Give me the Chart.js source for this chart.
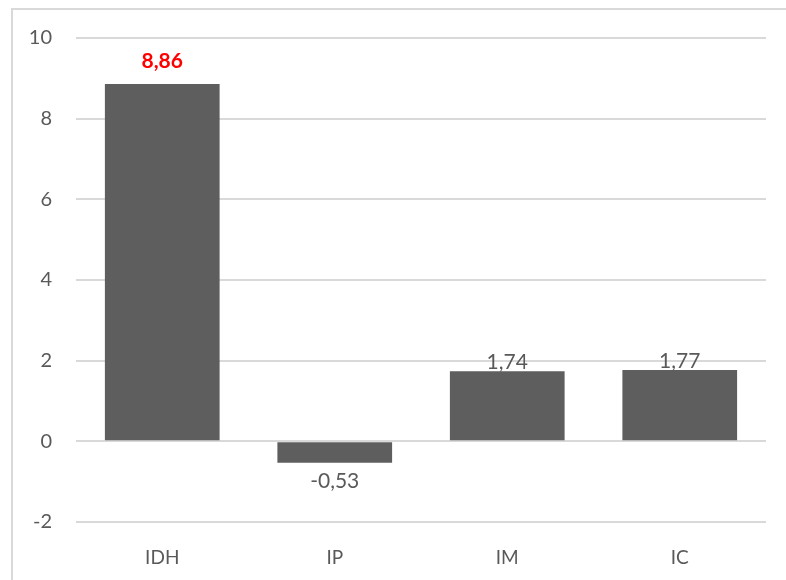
<!DOCTYPE html>
<html>
<head>
<meta charset="utf-8">
<script src="https://cdn.jsdelivr.net/npm/chart.js@4"></script>
<style>
  html, body { margin: 0; padding: 0; background: #fff; }
  #wrap { width: 786px; height: 580px; position: relative; }
</style>
</head>
<body>
<div id="wrap"><canvas id="chart"></canvas></div>
<script>
// data
const categories = ['IDH', 'IP', 'IM', 'IC'];
const values = [8.86, -0.53, 1.74, 1.77];
const yTicks = [-2, 0, 2, 4, 6, 8, 10];

const textColor = '#595959';
const gridColor = '#d9d9d9';

// frame around the chart (top and left edges only show)
const framePlugin = {
    id: 'frame',
    beforeDraw(chart) {
        const ctx = chart.ctx;
        ctx.save();
        ctx.strokeStyle = gridColor;
        ctx.lineWidth = 2;
        ctx.beginPath();
        ctx.moveTo(12, 590);
        ctx.lineTo(12, 9);
        ctx.lineTo(800, 9);
        ctx.stroke();
        ctx.restore();
    }
};

// value labels, comma decimal
const labelPlugin = {
    id: 'valueLabels',
    afterDatasetsDraw(chart) {
        const ctx = chart.ctx;
        const meta = chart.getDatasetMeta(0);
        ctx.save();
        ctx.textAlign = 'center';
        meta.data.forEach((bar, i) => {
            const v = values[i];
            const txt = v.toFixed(2).replace('.', ',');
            if (i === 0) {
                ctx.fillStyle = '#ff0000';
                ctx.font = 'bold 21px Lato';
                ctx.textBaseline = 'bottom';
                ctx.fillText(txt, bar.x, bar.y - 12);
            } else if (v < 0) {
                ctx.fillStyle = textColor;
                ctx.font = '21px Lato';
                ctx.textBaseline = 'top';
                ctx.fillText(txt, bar.x, bar.y + 8);
            } else {
                ctx.fillStyle = textColor;
                ctx.font = '21px Lato';
                ctx.textBaseline = 'bottom';
                ctx.fillText(txt, bar.x, bar.y + 2);
            }
        });
        ctx.restore();
    }
};

new Chart(document.getElementById('chart'), {
    type: 'bar',
    data: {
        labels: categories,
        datasets: [{
            data: values,
            backgroundColor: '#5e5e5e',
            borderWidth: 0,
            categoryPercentage: 1,
            barPercentage: 0.665
        }]
    },
    options: {
        responsive: true,
        maintainAspectRatio: false,
        animation: false,
        layout: { padding: { top: 38, right: 20, left: 0, bottom: 0 } },
        plugins: {
            legend: { display: false },
            tooltip: { enabled: false }
        },
        scales: {
            y: {
                min: -2,
                max: 10,
                afterBuildTicks(scale) {
                    scale.ticks = yTicks.map(v => ({ value: v }));
                },
                afterFit(scale) { scale.width = 76; },
                border: { display: false },
                grid: { color: gridColor, lineWidth: 2, drawTicks: false },
                ticks: {
                    color: textColor,
                    font: { family: 'Lato', size: 20 },
                    padding: 24
                }
            },
            x: {
                afterFit(scale) { scale.height = 58; },
                border: { display: false },
                grid: { display: false, drawTicks: false },
                ticks: {
                    color: textColor,
                    font: { family: 'Lato', size: 19 },
                    padding: 24
                }
            }
        }
    },
    plugins: [framePlugin, labelPlugin]
});
</script>
</body>
</html>
